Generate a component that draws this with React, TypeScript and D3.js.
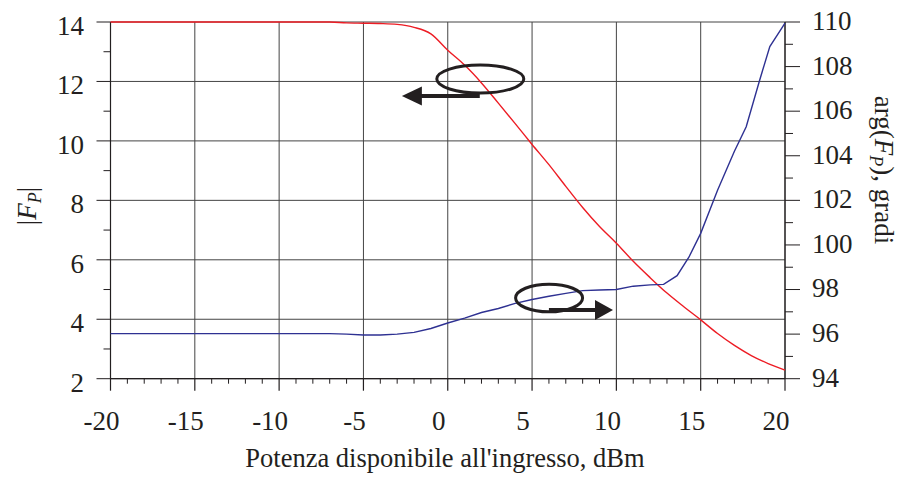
import React from "react";
import * as d3 from "d3";

// Input power sweep, dBm
const powerDbm = d3.range(-20, 21);

// |F_P| versus input power (left axis)
const magnitude = [
  14.0, 14.0, 14.0, 14.0, 14.0, 14.0, 14.0, 14.0, 14.0, 14.0, 14.0, 14.0, 14.0, 14.0,
  13.97, 13.96, 13.95, 13.92, 13.82, 13.6, 13.05, 12.55, 11.95, 11.27, 10.58, 9.88,
  9.2, 8.47, 7.76, 7.12, 6.56, 5.95, 5.4, 4.88, 4.42, 3.98, 3.52, 3.12, 2.78, 2.51, 2.29,
];

// arg(F_P) in degrees versus input power (right axis)
const phasePower = [
  -20, -19, -18, -17, -16, -15, -14, -13, -12, -11, -10, -9, -8, -7, -6, -5, -4, -3, -2, -1,
  0, 1, 2, 3, 4, 5, 6, 7, 8, 9, 10, 11, 12, 12.8, 13.6, 14.3, 15, 16, 17, 17.7, 18.5, 19.1, 20,
];
const phaseDeg = [
  96.02, 96.02, 96.02, 96.02, 96.02, 96.02, 96.02, 96.02, 96.02, 96.02, 96.02, 96.02, 96.02, 96.02,
  96.0, 95.96, 95.96, 96.0, 96.08, 96.25, 96.5, 96.72, 96.97, 97.15, 97.38, 97.55, 97.7, 97.83,
  97.95, 97.98, 98.0, 98.15, 98.21, 98.23, 98.62, 99.45, 100.52, 102.45, 104.2, 105.3, 107.4,
  108.9, 109.95,
];

const xTickValues = [-20, -15, -10, -5, 0, 5, 10, 15, 20];
const leftTickValues = [2, 4, 6, 8, 10, 12, 14];
const rightTickValues = [94, 96, 98, 100, 102, 104, 106, 108, 110];

const W = 911;
const H = 478;
const left = 110.5;
const right = 785;
const top = 22;
const bottom = 378.7;

const FONT = "Liberation Serif, Times New Roman, DejaVu Serif, serif";
const INK = "#231f20";
const txt = { fontFamily: FONT };

export default function App() {
  const x = d3.scaleLinear().domain([-20, 20]).range([left, right]);
  const yL = d3.scaleLinear().domain([2, 14]).range([bottom, top]);
  const yR = d3.scaleLinear().domain([94, 110]).range([bottom, top]);

  const magLine = d3
    .line<number>()
    .x((_, i) => x(powerDbm[i]))
    .y((d) => yL(d))
    .curve(d3.curveMonotoneX)(magnitude) as string;

  const phaseLine = d3
    .line<number>()
    .x((_, i) => x(phasePower[i]))
    .y((d) => yR(d))(phaseDeg) as string;

  const xMinor = d3.range(-20, 21, 1).filter((v) => v % 5 !== 0);
  const leftMinor = d3.range(3, 14, 2);
  const rightMinor = d3.range(95, 110, 2);

  // series markers: ellipse round each curve with an arrow to its axis
  const e1 = { cx: x(1.93), cy: yL(12.08), rx: 43.5, ry: 14 };
  const a1y = yL(11.51);
  const a1from = x(1.9);
  const a1tip = x(-2.72);
  const e2 = { cx: x(6.01), cy: yR(97.62), rx: 33.5, ry: 13.8 };
  const a2y = yR(97.08);
  const a2from = x(6.0);
  const a2tip = x(9.8);

  return (
    <svg
      width={W}
      height={H}
      style={{ position: "absolute", left: 0, top: 0, background: "#fff", fontFamily: FONT }}
    >
      {/* grid */}
      {xTickValues.map((v) => (
        <line key={"gx" + v} x1={x(v)} x2={x(v)} y1={top} y2={bottom} stroke="#444" strokeWidth={1} />
      ))}
      {leftTickValues.map((v) => (
        <line key={"gy" + v} x1={left} x2={right} y1={yL(v)} y2={yL(v)} stroke="#444" strokeWidth={1} />
      ))}

      {/* axes lines */}
      <line x1={left} x2={left} y1={top} y2={bottom} stroke={INK} strokeWidth={1.2} />
      <line x1={right} x2={right} y1={top} y2={bottom} stroke={INK} strokeWidth={1.2} />
      <line x1={left} x2={right} y1={bottom} y2={bottom} stroke={INK} strokeWidth={1.2} />

      {/* x ticks */}
      {xTickValues.map((v) => (
        <line key={"xt" + v} x1={x(v)} x2={x(v)} y1={bottom} y2={bottom + 12} stroke={INK} strokeWidth={1.2} />
      ))}
      {xMinor.map((v) => (
        <line key={"xm" + v} x1={x(v)} x2={x(v)} y1={bottom} y2={bottom + 5} stroke={INK} strokeWidth={1} />
      ))}
      {/* left ticks */}
      {leftTickValues.map((v) => (
        <line key={"lt" + v} x1={left - 14} x2={left} y1={yL(v)} y2={yL(v)} stroke={INK} strokeWidth={1} />
      ))}
      {leftMinor.map((v) => (
        <line key={"lm" + v} x1={left - 7} x2={left} y1={yL(v)} y2={yL(v)} stroke={INK} strokeWidth={1} />
      ))}
      {/* right ticks */}
      {rightTickValues.map((v) => (
        <line key={"rt" + v} x1={right} x2={right + 15} y1={yR(v)} y2={yR(v)} stroke={INK} strokeWidth={1} />
      ))}
      {rightMinor.map((v) => (
        <line key={"rm" + v} x1={right} x2={right + 8} y1={yR(v)} y2={yR(v)} stroke={INK} strokeWidth={1} />
      ))}

      {/* tick labels */}
      {xTickValues.map((v) => (
        <text key={"xl" + v} style={txt} x={x(v) - 9} y={430} textAnchor="middle" fontSize={27} fill={INK}>
          {v}
        </text>
      ))}
      {leftTickValues.map((v) => (
        <text key={"ll" + v} style={txt} x={84} y={yL(v) + 3.5} dy="0.35em" textAnchor="end" fontSize={27} fill={INK}>
          {v}
        </text>
      ))}
      {rightTickValues.map((v) => (
        <text key={"rl" + v} style={txt} x={812} y={yR(v) - 1.5} dy="0.35em" textAnchor="start" fontSize={27} fill={INK}>
          {v}
        </text>
      ))}

      {/* axis titles */}
      <text style={txt} x={445} y={467} textAnchor="middle" fontSize={26.5} fill={INK}>
        Potenza disponibile all'ingresso, dBm
      </text>
      <text
        style={txt}
        transform={`translate(36, 206) rotate(-90)`}
        textAnchor="middle"
        fontSize={27}
        fill={INK}
      >
        |<tspan fontStyle="italic">F</tspan>
        <tspan fontStyle="italic" fontSize={18} dy={5}>P</tspan>
        <tspan dy={-5}>|</tspan>
      </text>
      <text
        style={txt}
        transform={`translate(875, 170) rotate(90)`}
        textAnchor="middle"
        fontSize={27}
        fill={INK}
      >
        arg(<tspan fontStyle="italic">F</tspan>
        <tspan fontStyle="italic" fontSize={18} dy={5}>P</tspan>
        <tspan dy={-5}>), gradi</tspan>
      </text>

      {/* series */}
      <path d={magLine} fill="none" stroke="#ed1c24" strokeWidth={1.4} />
      <path d={phaseLine} fill="none" stroke="#2e3192" strokeWidth={1.4} />

      {/* series markers */}
      <ellipse cx={e1.cx} cy={e1.cy} rx={e1.rx} ry={e1.ry} fill="none" stroke={INK} strokeWidth={3} />
      <line x1={a1from} x2={a1tip + 18} y1={a1y} y2={a1y} stroke={INK} strokeWidth={4} />
      <polygon
        points={`${a1tip},${a1y} ${a1tip + 20},${a1y - 9.5} ${a1tip + 20},${a1y + 9.5}`}
        fill={INK}
      />
      <ellipse cx={e2.cx} cy={e2.cy} rx={e2.rx} ry={e2.ry} fill="none" stroke={INK} strokeWidth={3} />
      <line x1={a2from} x2={a2tip - 16} y1={a2y} y2={a2y} stroke={INK} strokeWidth={4} />
      <polygon
        points={`${a2tip},${a2y} ${a2tip - 18},${a2y - 10} ${a2tip - 18},${a2y + 10}`}
        fill={INK}
      />
    </svg>
  );
}
